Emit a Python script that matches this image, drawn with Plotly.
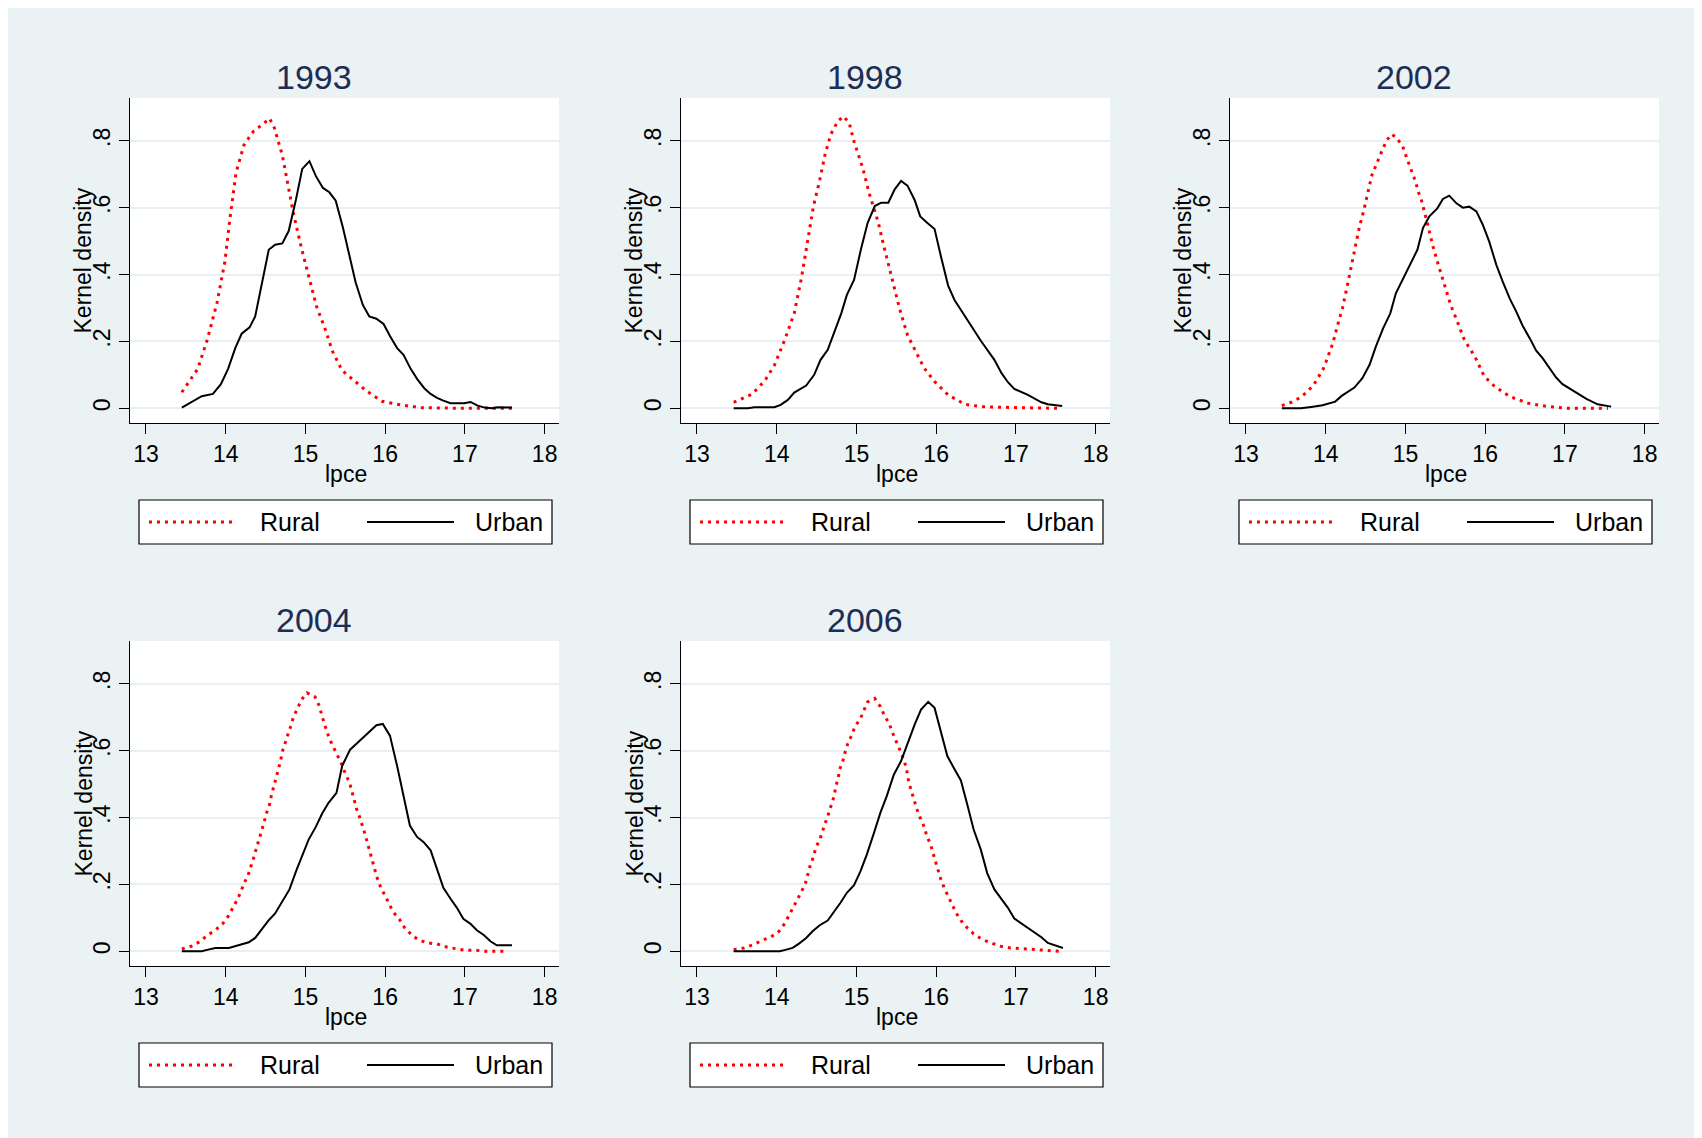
import plotly.graph_objects as go

# ---------------- data ----------------
years = ["1993", "1998", "2002", "2004", "2006"]
x_ticks = [13, 14, 15, 16, 17, 18]
y_ticks = [0, 0.2, 0.4, 0.6, 0.8]
y_tick_text = ["0", ".2", ".4", ".6", ".8"]
series_names = ["Rural", "Urban"]

rural_1993_x = [13.45, 13.65, 13.77, 13.89, 13.99, 14.05, 14.13, 14.23, 14.35, 14.47, 14.55, 14.61, 14.71, 14.78,
                14.85, 14.95, 15.05, 15.14, 15.24, 15.34, 15.46, 15.58, 15.77, 15.96, 16.2, 16.44, 16.93, 17.59]
rural_1993_y = [0.048, 0.118, 0.206, 0.314, 0.438, 0.561, 0.705, 0.788, 0.829, 0.85, 0.867, 0.839, 0.757, 0.674,
                0.582, 0.479, 0.386, 0.304, 0.242, 0.17, 0.113, 0.088, 0.051, 0.021, 0.01, 0.002, 0.0, 0.0]
urban_1993_x = [13.45, 13.58, 13.70, 13.84, 13.94, 14.03, 14.12, 14.20, 14.30, 14.37, 14.46, 14.54, 14.62, 14.71,
                14.79, 14.88, 14.96, 15.05, 15.13, 15.22, 15.30, 15.38, 15.47, 15.55, 15.63, 15.72, 15.80, 15.89,
                15.98, 16.06, 16.15, 16.23, 16.32, 16.40, 16.49, 16.57, 16.65, 16.73, 16.82, 16.99, 17.07, 17.16,
                17.25, 17.34, 17.41, 17.59]
urban_1993_y = [0.002, 0.02, 0.036, 0.043, 0.072, 0.118, 0.18, 0.223, 0.242, 0.275, 0.376, 0.474, 0.489, 0.493,
                0.530, 0.623, 0.716, 0.739, 0.695, 0.659, 0.646, 0.621, 0.541, 0.458, 0.376, 0.309, 0.275, 0.268,
                0.252, 0.216, 0.18, 0.16, 0.118, 0.088, 0.06, 0.043, 0.031, 0.023, 0.015, 0.015, 0.019, 0.008,
                0.002, 0.0, 0.003, 0.002]

rural_1998_x = [13.46, 13.69, 13.85, 13.97, 14.10, 14.22, 14.31, 14.38, 14.46, 14.54, 14.61, 14.68, 14.77, 14.84,
                14.91, 14.97, 15.08, 15.16, 15.27, 15.35, 15.44, 15.54, 15.64, 15.75, 15.85, 15.98, 16.15, 16.36,
                16.56, 16.98, 17.53]
rural_1998_y = [0.018, 0.042, 0.082, 0.128, 0.204, 0.284, 0.389, 0.494, 0.603, 0.683, 0.763, 0.82, 0.86, 0.873,
                0.853, 0.798, 0.718, 0.643, 0.559, 0.479, 0.394, 0.299, 0.219, 0.165, 0.12, 0.08, 0.04, 0.012,
                0.005, 0.002, 0.0]
urban_1998_x = [13.46, 13.64, 13.72, 13.97, 14.05, 14.14, 14.22, 14.37, 14.47, 14.55, 14.64, 14.72, 14.81, 14.88,
                14.97, 15.06, 15.14, 15.23, 15.31, 15.40, 15.48, 15.56, 15.64, 15.73, 15.80, 15.89, 15.98, 16.06,
                16.15, 16.23, 16.40, 16.56, 16.73, 16.82, 16.90, 16.98, 17.15, 17.32, 17.40, 17.58]
urban_1998_y = [0.0, 0.0, 0.003, 0.003, 0.01, 0.025, 0.047, 0.068, 0.1, 0.145, 0.175, 0.224, 0.284, 0.339,
                0.384, 0.479, 0.554, 0.605, 0.615, 0.615, 0.655, 0.68, 0.666, 0.623, 0.574, 0.554, 0.536, 0.454,
                0.367, 0.324, 0.259, 0.202, 0.145, 0.105, 0.078, 0.058, 0.04, 0.018, 0.012, 0.007]

rural_2002_x = [13.45, 13.57, 13.68, 13.77, 13.85, 13.91, 13.97, 14.01, 14.05, 14.09, 14.15, 14.21, 14.26, 14.33,
                14.37, 14.42, 14.48, 14.53, 14.58, 14.63, 14.67, 14.72, 14.77, 14.83, 14.90, 14.97, 15.01, 15.05,
                15.09, 15.13, 15.16, 15.20, 15.28, 15.34, 15.40, 15.47, 15.53, 15.57, 15.66, 15.74, 15.87, 15.99,
                16.12, 16.31, 16.54, 16.79, 17.04, 17.54]
rural_2002_y = [0.008, 0.018, 0.032, 0.05, 0.07, 0.092, 0.118, 0.143, 0.168, 0.195, 0.249, 0.299, 0.354, 0.434,
                0.489, 0.539, 0.594, 0.643, 0.698, 0.726, 0.75, 0.778, 0.803, 0.82, 0.806, 0.78, 0.753, 0.728,
                0.7, 0.676, 0.648, 0.623, 0.549, 0.489, 0.439, 0.384, 0.334, 0.307, 0.254, 0.204, 0.155, 0.095,
                0.065, 0.035, 0.015, 0.005, 0.0, 0.0]
urban_2002_x = [13.45, 13.69, 13.82, 13.96, 14.12, 14.20, 14.36, 14.46, 14.55, 14.63, 14.72, 14.81, 14.88, 14.97,
                15.06, 15.15, 15.22, 15.30, 15.40, 15.47, 15.55, 15.64, 15.72, 15.80, 15.89, 15.97, 16.05, 16.14,
                16.22, 16.31, 16.39, 16.47, 16.56, 16.64, 16.72, 16.81, 16.89, 16.97, 17.08, 17.27, 17.41, 17.58]
urban_2002_y = [0.0, 0.0, 0.004, 0.009, 0.02, 0.037, 0.062, 0.09, 0.13, 0.185, 0.239, 0.284, 0.344, 0.389,
                0.429, 0.474, 0.539, 0.574, 0.598, 0.626, 0.636, 0.613, 0.6, 0.603, 0.589, 0.549, 0.499, 0.429,
                0.379, 0.327, 0.289, 0.247, 0.209, 0.172, 0.15, 0.118, 0.092, 0.072, 0.055, 0.028, 0.012, 0.005]

rural_2004_x = [13.45, 13.57, 13.67, 13.77, 13.87, 13.96, 14.03, 14.09, 14.14, 14.19, 14.23, 14.28, 14.32, 14.35,
                14.38, 14.42, 14.45, 14.48, 14.51, 14.55, 14.57, 14.60, 14.63, 14.66, 14.69, 14.71, 14.75, 14.78,
                14.82, 14.85, 14.90, 14.95, 15.02, 15.12, 15.17, 15.23, 15.30, 15.36, 15.41, 15.46, 15.50, 15.55,
                15.58, 15.61, 15.64, 15.68, 15.72, 15.75, 15.78, 15.81, 15.84, 15.87, 15.90, 15.94, 15.99, 16.05,
                16.10, 16.18, 16.24, 16.32, 16.41, 16.53, 16.65, 16.78, 16.89, 17.01, 17.14, 17.26, 17.52]
rural_2004_y = [0.007, 0.015, 0.028, 0.048, 0.063, 0.082, 0.104, 0.128, 0.152, 0.178, 0.203, 0.227, 0.254, 0.279,
                0.304, 0.334, 0.359, 0.384, 0.412, 0.439, 0.463, 0.489, 0.516, 0.544, 0.571, 0.597, 0.623, 0.648,
                0.676, 0.701, 0.726, 0.752, 0.773, 0.761, 0.736, 0.686, 0.636, 0.608, 0.582, 0.557, 0.531, 0.507,
                0.481, 0.455, 0.427, 0.401, 0.374, 0.349, 0.322, 0.296, 0.269, 0.245, 0.219, 0.194, 0.17, 0.143,
                0.118, 0.095, 0.072, 0.052, 0.035, 0.025, 0.022, 0.012, 0.007, 0.003, 0.003, 0.0, 0.0]
urban_2004_x = [13.45, 13.70, 13.78, 13.87, 14.04, 14.14, 14.29, 14.37, 14.46, 14.54, 14.62, 14.72, 14.80, 14.89,
                14.98, 15.04, 15.13, 15.21, 15.29, 15.39, 15.46, 15.56, 15.65, 15.73, 15.82, 15.89, 15.97, 16.06,
                16.15, 16.23, 16.31, 16.40, 16.48, 16.57, 16.65, 16.73, 16.82, 16.90, 16.98, 17.07, 17.15, 17.24,
                17.32, 17.40, 17.59]
urban_2004_y = [0.0, 0.0, 0.005, 0.01, 0.01, 0.017, 0.027, 0.04, 0.07, 0.093, 0.113, 0.155, 0.185, 0.244,
                0.299, 0.334, 0.372, 0.412, 0.444, 0.474, 0.554, 0.603, 0.623, 0.641, 0.66, 0.676, 0.68, 0.645,
                0.554, 0.469, 0.376, 0.342, 0.327, 0.302, 0.244, 0.19, 0.157, 0.13, 0.097, 0.082, 0.063, 0.048,
                0.03, 0.018, 0.018]

rural_2006_x = [13.46, 13.59, 13.71, 13.81, 13.93, 14.03, 14.10, 14.16, 14.21, 14.26, 14.31, 14.36, 14.39, 14.42,
                14.46, 14.49, 14.54, 14.58, 14.61, 14.65, 14.68, 14.72, 14.74, 14.77, 14.79, 14.83, 14.86, 14.89,
                14.94, 14.98, 15.05, 15.09, 15.14, 15.23, 15.30, 15.35, 15.41, 15.45, 15.49, 15.54, 15.58, 15.62,
                15.66, 15.69, 15.73, 15.76, 15.80, 15.85, 15.88, 15.93, 15.96, 15.99, 16.03, 16.06, 16.10, 16.15,
                16.20, 16.25, 16.31, 16.39, 16.47, 16.58, 16.69, 16.81, 16.93, 17.06, 17.18, 17.31, 17.56]
rural_2006_y = [0.005, 0.01, 0.02, 0.032, 0.043, 0.06, 0.083, 0.11, 0.128, 0.155, 0.178, 0.203, 0.229, 0.256,
                0.282, 0.309, 0.334, 0.359, 0.384, 0.411, 0.437, 0.464, 0.491, 0.517, 0.544, 0.569, 0.597, 0.62,
                0.646, 0.671, 0.696, 0.721, 0.746, 0.756, 0.732, 0.706, 0.681, 0.655, 0.63, 0.605, 0.581, 0.554,
                0.502, 0.477, 0.449, 0.424, 0.399, 0.372, 0.347, 0.319, 0.294, 0.269, 0.242, 0.214, 0.19, 0.165,
                0.14, 0.115, 0.092, 0.07, 0.052, 0.035, 0.025, 0.015, 0.01, 0.008, 0.005, 0.002, 0.0]
urban_2006_x = [13.46, 14.04, 14.12, 14.20, 14.28, 14.37, 14.45, 14.54, 14.64, 14.72, 14.80, 14.88, 14.97, 15.05,
                15.13, 15.22, 15.30, 15.38, 15.47, 15.56, 15.64, 15.73, 15.81, 15.90, 15.98, 16.06, 16.14, 16.22,
                16.31, 16.39, 16.47, 16.56, 16.64, 16.73, 16.82, 16.90, 16.98, 17.07, 17.15, 17.23, 17.32, 17.40,
                17.49, 17.59]
urban_2006_y = [0.0, 0.0, 0.005, 0.01, 0.023, 0.04, 0.06, 0.078, 0.092, 0.118, 0.145, 0.175, 0.198, 0.239,
                0.289, 0.354, 0.414, 0.464, 0.529, 0.569, 0.623, 0.678, 0.723, 0.746, 0.728, 0.658, 0.584, 0.549,
                0.511, 0.439, 0.364, 0.304, 0.234, 0.185, 0.155, 0.13, 0.098, 0.083, 0.07, 0.058, 0.042, 0.025,
                0.018, 0.01]

rural_x = [rural_1993_x, rural_1998_x, rural_2002_x, rural_2004_x, rural_2006_x]
rural_y = [rural_1993_y, rural_1998_y, rural_2002_y, rural_2004_y, rural_2006_y]
urban_x = [urban_1993_x, urban_1998_x, urban_2002_x, urban_2004_x, urban_2006_x]
urban_y = [urban_1993_y, urban_1998_y, urban_2002_y, urban_2004_y, urban_2006_y]

# ---------------- layout geometry (pixels in the 1702x1138 screenshot) ----------------
OFF = 8                      # page body margin
W, H = 1702 - OFF, 1138 - OFF
BG = "#eaf2f3"
GRID = "#e8f0f2"
TITLE_COLOR = "#1e2d55"
FONT = "Arial, Liberation Sans, sans-serif"
panel_left = [130, 681, 1230, 130, 681]
panel_top = [98, 98, 98, 641, 641]
PW, PH = 429, 325
RURAL_LINE = dict(color="#ff0000", width=3, dash="3px,5px")
URBAN_LINE = dict(color="black", width=2)


def px(x):
    return (x - OFF) / W


def py(y):
    return 1 - (y - OFF) / H


fig = go.Figure()
annotations = []
shapes = []
layout_axes = {}

for i, yr in enumerate(years):
    k = i + 1
    xa = "x" if k == 1 else f"x{k}"
    ya = "y" if k == 1 else f"y{k}"
    fig.add_trace(go.Scatter(x=rural_x[i], y=rural_y[i], mode="lines", name=series_names[0],
                             line=RURAL_LINE, xaxis=xa, yaxis=ya, showlegend=False))
    fig.add_trace(go.Scatter(x=urban_x[i], y=urban_y[i], mode="lines", name=series_names[1],
                             line=URBAN_LINE, xaxis=xa, yaxis=ya, showlegend=False))
    L, T = panel_left[i], panel_top[i]
    xkey = "xaxis" if k == 1 else f"xaxis{k}"
    ykey = "yaxis" if k == 1 else f"yaxis{k}"
    layout_axes[xkey] = dict(
        domain=[px(L), px(L + PW)], anchor=ya, range=[12.8, 18.18],
        tickmode="array", tickvals=x_ticks, ticks="outside", ticklen=10, tickwidth=1.3,
        tickcolor="black", showline=True, linecolor="black", linewidth=1.3,
        showgrid=False, zeroline=False, tickfont=dict(size=23, color="black", family=FONT),
        fixedrange=True,
    )
    layout_axes[ykey] = dict(
        domain=[py(T + PH), py(T)], anchor=xa, range=[-0.044, 0.928],
        tickmode="array", tickvals=y_ticks, ticktext=y_tick_text, tickangle=-90,
        ticks="outside", ticklen=10, tickwidth=1.3, tickcolor="black",
        showline=True, linecolor="black", linewidth=1.3,
        showgrid=True, gridcolor=GRID, gridwidth=2, zeroline=False,
        tickfont=dict(size=23, color="black", family=FONT), fixedrange=True,
    )
    # subplot title
    annotations.append(dict(text=yr, xref="paper", yref="paper", x=px(L + PW / 2 - 31), y=py(T - 21),
                            xanchor="center", yanchor="middle", showarrow=False,
                            font=dict(size=34, color=TITLE_COLOR, family=FONT)))
    # axis titles
    annotations.append(dict(text="lpce", xref="paper", yref="paper", x=px(L + PW / 2 + 1.5), y=py(T + PH + 51),
                            xanchor="center", yanchor="middle", showarrow=False,
                            font=dict(size=23, color="black", family=FONT)))
    annotations.append(dict(text="Kernel density", xref="paper", yref="paper", x=px(L - 47), y=py(T + PH / 2),
                            xanchor="center", yanchor="middle", showarrow=False, textangle=-90,
                            font=dict(size=23, color="black", family=FONT)))
    # legend box
    shapes.append(dict(type="rect", xref="paper", yref="paper", x0=px(L + 9), x1=px(L + 422),
                       y0=py(T + 446), y1=py(T + 402), fillcolor="white",
                       line=dict(color="black", width=1.2)))
    shapes.append(dict(type="line", xref="paper", yref="paper", x0=px(L + 19), x1=px(L + 104),
                       y0=py(T + 424), y1=py(T + 424), line=RURAL_LINE))
    shapes.append(dict(type="line", xref="paper", yref="paper", x0=px(L + 237), x1=px(L + 324),
                       y0=py(T + 424), y1=py(T + 424), line=URBAN_LINE))
    annotations.append(dict(text=series_names[0], xref="paper", yref="paper", x=px(L + 160), y=py(T + 424),
                            xanchor="center", yanchor="middle", showarrow=False,
                            font=dict(size=25, color="black", family=FONT)))
    annotations.append(dict(text=series_names[1], xref="paper", yref="paper", x=px(L + 415), y=py(T + 424),
                            xanchor="right", yanchor="middle", showarrow=False,
                            font=dict(size=25, color="black", family=FONT)))

fig.update_layout(
    width=W, height=H, margin=dict(l=0, r=0, t=0, b=0),
    paper_bgcolor=BG, plot_bgcolor="white", showlegend=False,
    font=dict(family=FONT), annotations=annotations, shapes=shapes,
    **layout_axes,
)

fig.write_html("out.html")
